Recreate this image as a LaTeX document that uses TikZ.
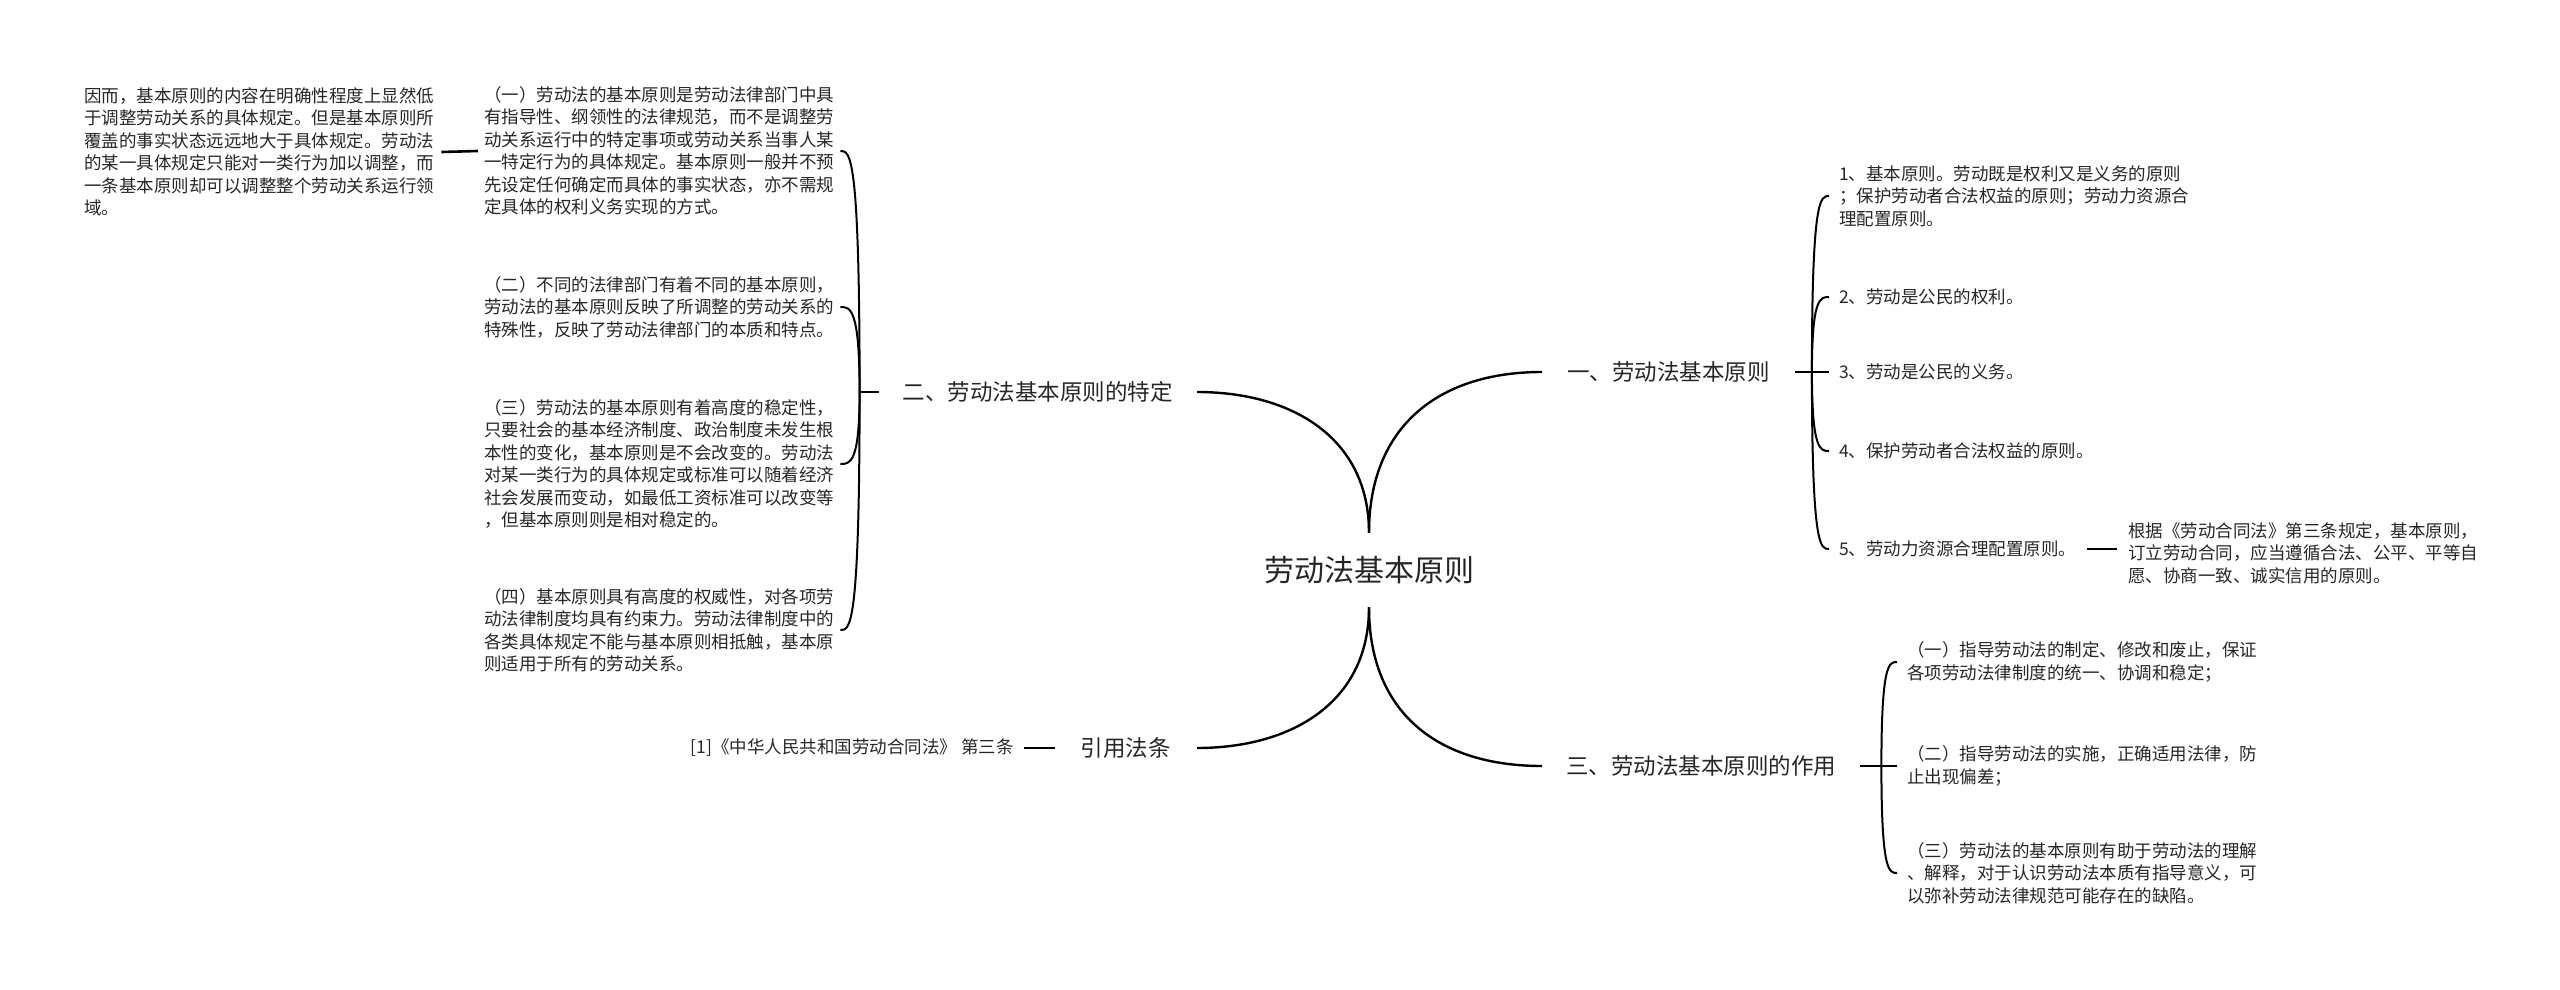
\documentclass[tikz,border=0pt]{standalone}
\usepackage{fontspec}
\setmainfont{Noto Sans CJK SC}
\usetikzlibrary{calc}
\begin{document}
\begin{tikzpicture}[x=1pt,y=-1pt,
  txt/.style={font=\fontsize{17.5}{22.5}\selectfont, align=left, inner ysep=0pt, inner xsep=0pt, text=black!85, anchor=west},
  lbl/.style={font=\fontsize{22.5}{27}\selectfont, inner ysep=0pt, text=black!85},
  mainlink/.style={line width=2.4pt},
  brk/.style={line width=2pt},
  bar/.style={line width=2.6pt}]
\useasboundingbox (0,0) rectangle (2560,990);

% centre
\node[font=\fontsize{30}{36}\selectfont, inner sep=0pt, minimum height=74pt, text=black!85] (ctr) at (1369,570) {劳动法基本原则};

% main labels
\node[lbl, inner xsep=24pt, anchor=east] (L1) at (1197,392) {二、劳动法基本原则的特定};
\node[lbl, inner xsep=26pt, anchor=east] (L2) at (1197,748) {引用法条};
\node[lbl, inner xsep=25pt, anchor=west] (R1) at (1542,372) {一、劳动法基本原则};
\node[lbl, inner xsep=24pt, anchor=west] (R3) at (1542,766) {三、劳动法基本原则的作用};

\draw[mainlink] (ctr.north) .. controls +(0,-95) and +(95,0) .. (L1.east);
\draw[mainlink] (ctr.north) .. controls +(0,-105) and +(-105,0) .. (R1.west);
\draw[mainlink] (ctr.south) .. controls +(0,95) and +(95,0) .. (L2.east);
\draw[mainlink] (ctr.south) .. controls +(0,105) and +(-105,0) .. (R3.west);

% reference
\node[txt, inner xsep=10pt, anchor=east] (ref) at (1024,748) {[1]《中华人民共和国劳动合同法》 第三条};
\draw[bar] (ref.east) -- (L2.west);

% left branch
\node[txt, inner xsep=7pt] (la) at (77,152) {因而，基本原则的内容在明确性程度上显然低\\于调整劳动关系的具体规定。但是基本原则所\\覆盖的事实状态远远地大于具体规定。劳动法\\的某一具体规定只能对一类行为加以调整，而\\一条基本原则却可以调整整个劳动关系运行领\\域。};
\node[txt, inner xsep=6pt] (lb) at (478,151) {（一）劳动法的基本原则是劳动法律部门中具\\有指导性、纲领性的法律规范，而不是调整劳\\动关系运行中的特定事项或劳动关系当事人某\\一特定行为的具体规定。基本原则一般并不预\\先设定任何确定而具体的事实状态，亦不需规\\定具体的权利义务实现的方式。};
\node[txt, inner xsep=6pt] (lc) at (478,307) {（二）不同的法律部门有着不同的基本原则，\\劳动法的基本原则反映了所调整的劳动关系的\\特殊性，反映了劳动法律部门的本质和特点。};
\node[txt, inner xsep=6pt] (ld) at (478,464) {（三）劳动法的基本原则有着高度的稳定性，\\只要社会的基本经济制度、政治制度未发生根\\本性的变化，基本原则是不会改变的。劳动法\\对某一类行为的具体规定或标准可以随着经济\\社会发展而变动，如最低工资标准可以改变等\\，但基本原则则是相对稳定的。};
\node[txt, inner xsep=6pt] (le) at (478,630) {（四）基本原则具有高度的权威性，对各项劳\\动法律制度均具有约束力。劳动法律制度中的\\各类具体规定不能与基本原则相抵触，基本原\\则适用于所有的劳动关系。};
\draw[bar] (la.east) -- (lb.west);
\coordinate (jl) at ($(L1.west)+(-19,0)$);
\draw[bar] (L1.west) -- (jl);
\foreach \n in {lb,lc,ld,le}
  \draw[brk] (jl) .. controls (jl |- \n.east) and ($(jl |- \n.east)!0.5!(\n.east)$) .. (\n.east);

% right branch 1
\node[txt, inner xsep=10pt] (r1) at (1829,196) {1、基本原则。劳动既是权利又是义务的原则\\；保护劳动者合法权益的原则；劳动力资源合\\理配置原则。};
\node[txt, inner xsep=10pt] (r2) at (1829,297) {2、劳动是公民的权利。};
\node[txt, inner xsep=10pt] (r3) at (1829,372) {3、劳动是公民的义务。};
\node[txt, inner xsep=10pt] (r4) at (1829,451) {4、保护劳动者合法权益的原则。};
\node[txt, inner xsep=10pt] (r5) at (1829,549) {5、劳动力资源合理配置原则。};
\node[txt, inner xsep=11pt] (r5c) at (2117,553) {根据《劳动合同法》第三条规定，基本原则，\\订立劳动合同，应当遵循合法、公平、平等自\\愿、协商一致、诚实信用的原则。};
\draw[bar] (R1.east) -- (r3.west);
\coordinate (j1) at ($(R1.east)+(17,0)$);
\foreach \n in {r1,r2,r4,r5}
  \draw[brk] (j1) .. controls (j1 |- \n.west) and ($(j1 |- \n.west)!0.5!(\n.west)$) .. (\n.west);
\draw[bar] (r5.east) -- (r5.east -| r5c.west);

% right branch 3
\node[txt, inner xsep=10pt] (t1) at (1897,662) {（一）指导劳动法的制定、修改和废止，保证\\各项劳动法律制度的统一、协调和稳定；};
\node[txt, inner xsep=10pt] (t2) at (1897,766) {（二）指导劳动法的实施，正确适用法律，防\\止出现偏差；};
\node[txt, inner xsep=10pt] (t3) at (1897,873) {（三）劳动法的基本原则有助于劳动法的理解\\、解释，对于认识劳动法本质有指导意义，可\\以弥补劳动法律规范可能存在的缺陷。};
\draw[bar] (R3.east) -- (t2.west);
\coordinate (j3) at ($(R3.east)+(21,0)$);
\foreach \n in {t1,t3}
  \draw[brk] (j3) .. controls (j3 |- \n.west) and ($(j3 |- \n.west)!0.5!(\n.west)$) .. (\n.west);
\end{tikzpicture}
\end{document}
